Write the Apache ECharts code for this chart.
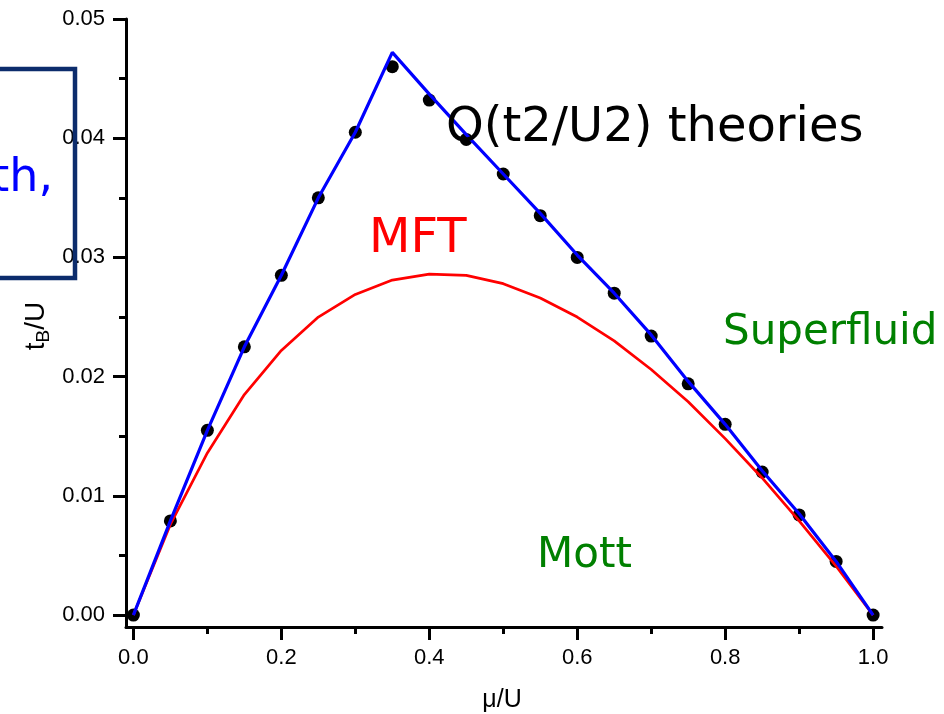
<!DOCTYPE html>
<html>
<head>
<meta charset="utf-8">
<script src="https://cdn.jsdelivr.net/npm/echarts@6/dist/echarts.min.js"></script>
<style>
html, body { margin: 0; padding: 0; background: #fff; }
#main { width: 944px; height: 714px; }
</style>
</head>
<body>
<div id="main"></div>
<script>
// mu/U 取值
var muVals = [0, 0.05, 0.1, 0.15, 0.2, 0.25, 0.3, 0.35, 0.4, 0.45, 0.5,
    0.55, 0.6, 0.65, 0.7, 0.75, 0.8, 0.85, 0.9, 0.95, 1.0];
// 黑点 (数值结果)
var dotVals = [0, 0.0079, 0.0155, 0.0225, 0.0285, 0.0350, 0.0405, 0.0460, 0.0432, 0.0399, 0.0370,
    0.0335, 0.0300, 0.0270, 0.0234, 0.0194, 0.0160, 0.0120, 0.0084, 0.0045, 0];
// 蓝线 O(t2/U2)
var blueVals = [0, 0.0079, 0.0155, 0.0225, 0.0285, 0.0350, 0.0405, 0.0472, 0.0437, 0.0403, 0.0370,
    0.0337, 0.0302, 0.0270, 0.0235, 0.0196, 0.0160, 0.0121, 0.0085, 0.0045, 0];
// 红线 MFT
var redVals = [0, 0.0076, 0.0136, 0.0185, 0.0222, 0.0250, 0.0269, 0.0281, 0.0286, 0.0285, 0.0278,
    0.0266, 0.0250, 0.0230, 0.0206, 0.0179, 0.0148, 0.0115, 0.0079, 0.0041, 0];
// 刻度
var xMajor = [0, 0.2, 0.4, 0.6, 0.8, 1.0];
var xMinor = [0.1, 0.3, 0.5, 0.7, 0.9];
var yMajor = [0, 0.01, 0.02, 0.03, 0.04, 0.05];
var yMinor = [0.005, 0.015, 0.025, 0.035, 0.045];

function pairs(ys) {
    var out = [];
    for (var i = 0; i < muVals.length; i++) {
        out.push([muVals[i], ys[i]]);
    }
    return out;
}

// 只画刻度的辅助轴
function tickAxis(min, max, pos, values, len) {
    return {
        type: 'value', min: min, max: max, position: pos, offset: 0,
        axisLine: { show: false, onZero: false },
        axisTick: { show: true, customValues: values, length: len, lineStyle: { color: '#000', width: 3 } },
        axisLabel: { show: false },
        splitLine: { show: false }
    };
}

var myChart = echarts.init(document.getElementById('main'));
var lineStyle = { color: '#000', width: 3 };

var option = {
    animation: false,
    backgroundColor: '#fff',
    grid: { left: 126, right: 62, top: 19, bottom: 87 },
    xAxis: [
        {
            type: 'value', min: -0.01, max: 1.012, position: 'bottom',
            axisLine: { show: true, onZero: false, lineStyle: lineStyle },
            axisTick: { show: false },
            axisLabel: {
                customValues: xMajor, margin: 20,
                fontFamily: 'Liberation Sans', fontSize: 22, color: '#000',
                formatter: function (v) { return v.toFixed(1); }
            },
            splitLine: { show: false }
        },
        tickAxis(-0.01, 1.012, 'bottom', xMajor, 13),
        tickAxis(-0.01, 1.012, 'bottom', xMinor, 7)
    ],
    yAxis: [
        {
            type: 'value', min: -0.001, max: 0.05, position: 'left',
            axisLine: { show: true, onZero: false, lineStyle: lineStyle },
            axisTick: { show: false },
            axisLabel: {
                customValues: yMajor, margin: 21,
                fontFamily: 'Liberation Sans', fontSize: 22, color: '#000',
                formatter: function (v) { return v.toFixed(2); }
            },
            splitLine: { show: false }
        },
        tickAxis(-0.001, 0.05, 'left', yMajor, 13),
        tickAxis(-0.001, 0.05, 'left', yMinor, 7)
    ],
    series: [
        {
            type: 'scatter', data: pairs(dotVals), symbol: 'circle', symbolSize: 13,
            itemStyle: { color: '#000', opacity: 1 }, z: 2
        },
        {
            type: 'line', data: pairs(redVals), showSymbol: false,
            lineStyle: { color: '#ff0000', width: 2.7 }, z: 3
        },
        {
            type: 'line', data: pairs(blueVals), showSymbol: false,
            lineStyle: { color: '#0000ff', width: 3.2 }, z: 4
        }
    ],
    graphic: [
        // 左侧截断的文本框
        {
            type: 'rect', shape: { x: -10, y: 69, width: 85, height: 209 },
            style: { fill: 'none', stroke: '#0c2c6c', lineWidth: 4.5 }, z: 10
        },
        {
            type: 'text', x: 53, y: 179,
            style: { text: 'th,', fill: '#0000ff', font: '46px "DejaVu Sans"', align: 'right', verticalAlign: 'middle' }, z: 10
        },
        {
            type: 'text', x: 446, y: 129,
            style: { text: 'O(t2/U2) theories', fill: '#000', font: '48px "DejaVu Sans"', verticalAlign: 'middle' }, z: 10
        },
        {
            type: 'text', x: 369, y: 240,
            style: { text: 'MFT', fill: '#ff0000', font: '48px "DejaVu Sans"', verticalAlign: 'middle' }, z: 10
        },
        {
            type: 'text', x: 723, y: 333,
            style: { text: 'Superfluid', fill: '#008000', font: '42px "DejaVu Sans"', verticalAlign: 'middle' }, z: 10
        },
        {
            type: 'text', x: 537, y: 556,
            style: { text: 'Mott', fill: '#008000', font: '42px "DejaVu Sans"', verticalAlign: 'middle' }, z: 10
        },
        // 坐标轴名称
        {
            type: 'text', x: 502, y: 700,
            style: { text: 'μ/U', fill: '#000', font: '25px "Liberation Sans"', align: 'center', verticalAlign: 'middle' }, z: 10
        },
        {
            type: 'text', x: 36, y: 326, rotation: Math.PI / 2,
            style: {
                text: '{a|t}{b|B}{a|/U}', align: 'center', verticalAlign: 'middle',
                rich: {
                    a: { fontFamily: 'Liberation Sans', fontSize: 28, lineHeight: 28, fill: '#000' },
                    b: { fontFamily: 'Liberation Sans', fontSize: 19, lineHeight: 19, padding: [16, 0, 0, 0], fill: '#000' }
                }
            }, z: 10
        }
    ]
};
myChart.setOption(option);
</script>
</body>
</html>
